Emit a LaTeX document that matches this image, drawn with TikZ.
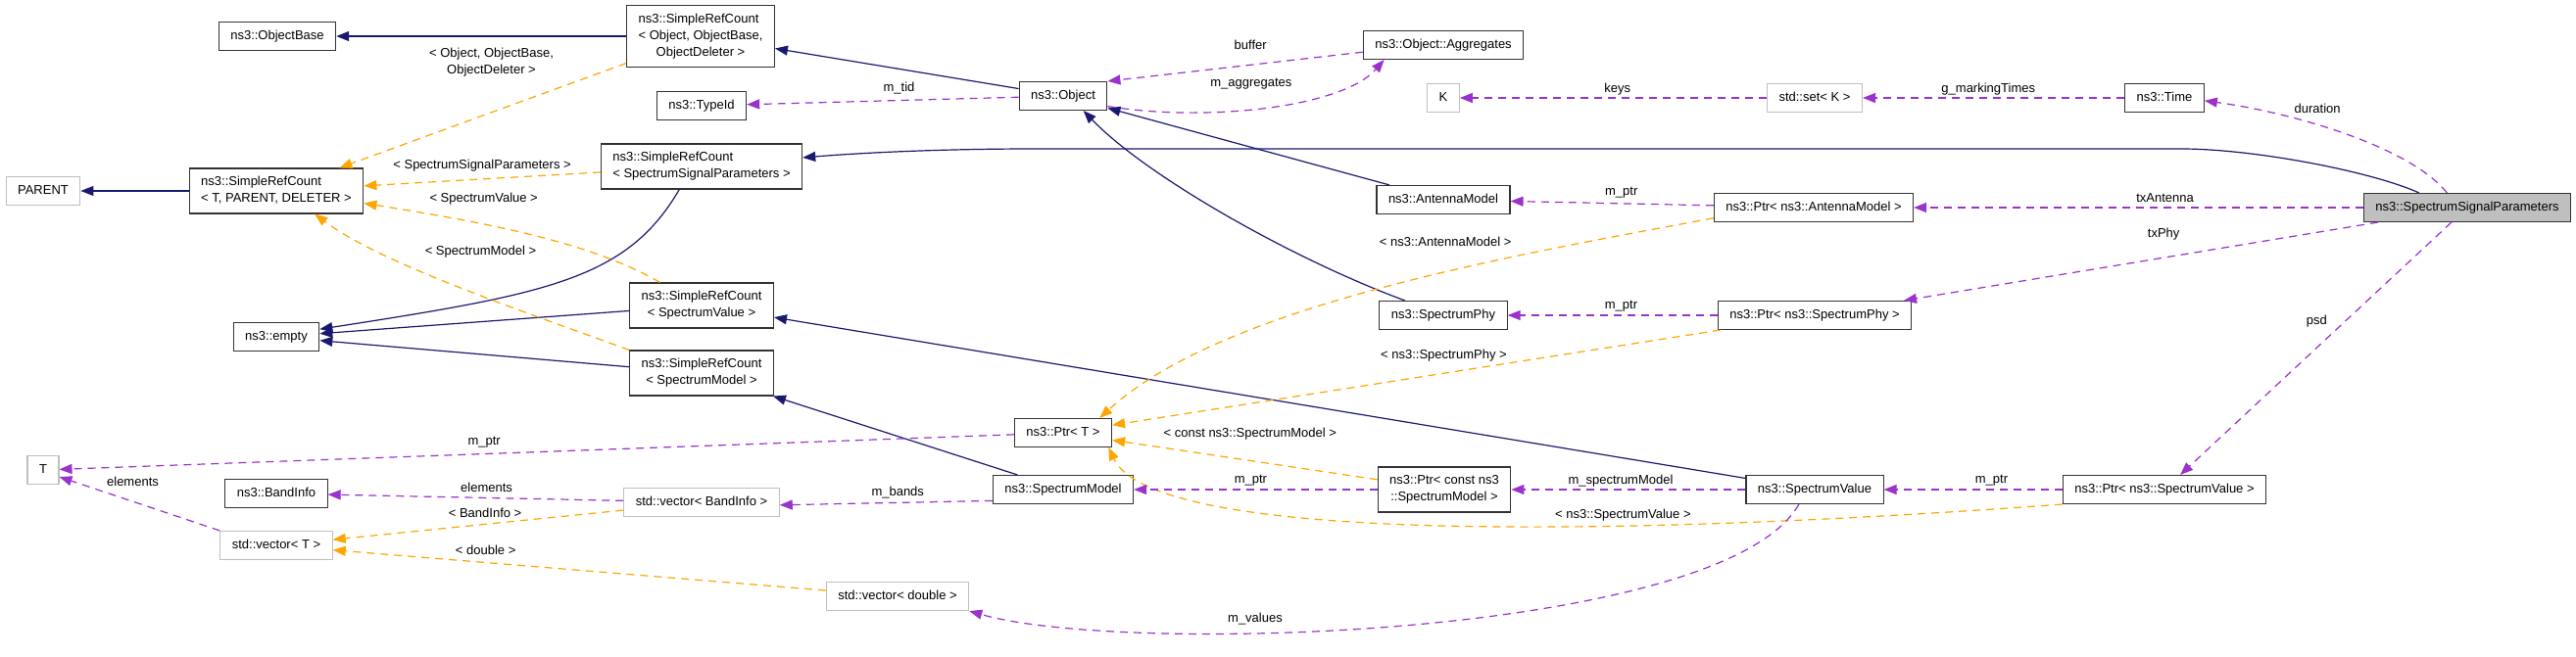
\documentclass[tikz,border=0pt]{standalone}
\usepackage{fontspec}
\setmainfont{Liberation Sans}
\usetikzlibrary{arrows.meta}
\definecolor{inherit}{RGB}{25,25,112}
\definecolor{templ}{RGB}{255,165,0}
\definecolor{usage}{RGB}{154,50,205}
\definecolor{undoc}{RGB}{191,191,191}
\newcommand{\clsname}[1]{\begin{tabular}{@{}l@{}}#1\end{tabular}}
\newcommand{\lastln}[1]{\multicolumn{1}{@{}c@{}}{#1}}

\begin{document}
\begin{tikzpicture}[x=1pt,y=-1pt,
  font=\fontsize{13}{17}\selectfont,
  >={Stealth[length=13pt,width=10pt,inset=0pt]},
  cls/.style={draw=black!80,line width=1.1pt,fill=white,inner xsep=12pt,inner ysep=6pt},
  nodoc/.style={cls,draw=undoc},
  base/.style={->,line width=1.2pt,color=inherit},
  inst/.style={->,line width=1.2pt,color=templ,dash pattern=on 8pt off 6pt},
  uses/.style={->,line width=1.2pt,color=usage,dash pattern=on 8pt off 6pt},
  lbl/.style={inner sep=1pt,text=black}]

\path[fill=white] (0,0) rectangle (2629,651);

% classes
\node[nodoc] (parent) at (44,195) {\clsname{PARENT}};
\node[cls] (objbase) at (283,37) {\clsname{ns3::ObjectBase}};
\node[cls] (srcT) at (282,195) {\clsname{ns3::SimpleRefCount\\\lastln{< T, PARENT, DELETER >}}};
\node[cls] (empty) at (282,344) {\clsname{ns3::empty}};
\node[nodoc] (T) at (44,480) {\clsname{T}};
\node[cls] (bandinfo) at (282,504) {\clsname{ns3::BandInfo}};
\node[nodoc] (vecT) at (282,557) {\clsname{std::vector< T >}};
\node[cls] (srcObj) at (715,37) {\clsname{ns3::SimpleRefCount\\< Object, ObjectBase,\\\lastln{ObjectDeleter >}}};
\node[cls] (typeid) at (716,108) {\clsname{ns3::TypeId}};
\node[cls] (srcSSP) at (716,170) {\clsname{ns3::SimpleRefCount\\\lastln{< SpectrumSignalParameters >}}};
\node[cls] (srcSV) at (716,312) {\clsname{ns3::SimpleRefCount\\\lastln{< SpectrumValue >}}};
\node[cls] (srcSM) at (716,381) {\clsname{ns3::SimpleRefCount\\\lastln{< SpectrumModel >}}};
\node[nodoc] (vecBand) at (716,513) {\clsname{std::vector< BandInfo >}};
\node[nodoc] (vecDbl) at (916,609) {\clsname{std::vector< double >}};
\node[cls] (object) at (1085,98) {\clsname{ns3::Object}};
\node[cls] (ptrT) at (1085,442) {\clsname{ns3::Ptr< T >}};
\node[cls] (specModel) at (1085,500) {\clsname{ns3::SpectrumModel}};
\node[cls] (aggr) at (1473,46) {\clsname{ns3::Object::Aggregates}};
\node[nodoc] (K) at (1473,100) {\clsname{K}};
\node[cls] (antenna) at (1473,204) {\clsname{ns3::AntennaModel}};
\node[cls] (specPhy) at (1473,322) {\clsname{ns3::SpectrumPhy}};
\node[cls] (ptrSM) at (1474,500) {\clsname{ns3::Ptr< const ns3\\\lastln{::SpectrumModel >}}};
\node[nodoc] (setK) at (1852,100) {\clsname{std::set< K >}};
\node[cls] (ptrAnt) at (1851,212) {\clsname{ns3::Ptr< ns3::AntennaModel >}};
\node[cls] (ptrPhy) at (1852,322) {\clsname{ns3::Ptr< ns3::SpectrumPhy >}};
\node[cls] (specValue) at (1852,500) {\clsname{ns3::SpectrumValue}};
\node[cls] (time) at (2209,100) {\clsname{ns3::Time}};
\node[cls] (ptrSV) at (2209,500) {\clsname{ns3::Ptr< ns3::SpectrumValue >}};
\node[cls,fill=undoc] (sspar) at (2518,212) {\clsname{ns3::SpectrumSignalParameters}};

% inheritance
\path[base] (srcObj) edge (objbase)
  (srcT) edge (parent)
  (object) edge (srcObj)
  (srcSV) edge (empty)
  (srcSM) edge (empty)
  (antenna) edge (object)
  (specValue) edge (srcSV)
  (specModel) edge (srcSM);
\draw[base] (sspar.163) .. controls (2420,175) and (2300,152) .. (2226,152) -- (1057,152)
  .. controls (960,152) and (880,156) .. (srcSSP.5);
\draw[base] (srcSSP.226) .. controls (640,285) and (560,300) .. (empty.10);
\draw[base] (specPhy.159) .. controls (1320,265) and (1170,180) .. (object.-36);

% template arguments
\path[inst] (srcObj) edge node[lbl,align=center,pos=.47,yshift=51pt] {< Object, ObjectBase,\\ObjectDeleter >} (srcT)
  (srcSSP) edge node[lbl,pos=.5,yshift=14pt] {< SpectrumSignalParameters >} (srcT)
  (ptrPhy) edge node[lbl,pos=.455,yshift=18pt] {< ns3::SpectrumPhy >} (ptrT)
  (ptrSM) edge node[lbl,pos=.48,yshift=27pt] {< const ns3::SpectrumModel >} (ptrT)
  (vecBand) edge node[lbl,pos=.476,yshift=12pt] {< BandInfo >} (vecT)
  (vecDbl) edge node[lbl,pos=.69,yshift=13pt] {< double >} (vecT);
\draw[inst] (srcSV.151) .. controls (600,245) and (480,225) .. (srcT.-8)
  node[lbl,pos=.63,yshift=26pt] {< SpectrumValue >};
\draw[inst] (srcSM.north west) .. controls (540,320) and (390,270) .. (srcT.-31)
  node[lbl,pos=.44,yshift=45pt] {< SpectrumModel >};
\draw[inst] (ptrAnt.186) .. controls (1550,260) and (1250,310) .. (ptrT.22)
  node[lbl,pos=.4,xshift=-4pt,yshift=30pt] {< ns3::AntennaModel >};
\draw[inst] (ptrSV.south west) .. controls (1700,545) and (1180,560) .. (ptrT.-18)
  node[lbl,pos=.355,yshift=11pt] {< ns3::SpectrumValue >};

% members
\path[uses] (object) edge node[lbl,pos=.44,yshift=12pt] {m\_tid} (typeid)
  (aggr.185) edge node[lbl,pos=.44,yshift=20pt] {buffer} (object.north east)
  (setK) edge node[lbl,pos=.486,yshift=9pt] {keys} (K)
  (time) edge node[lbl,pos=.52,yshift=9pt] {g\_markingTimes} (setK)
  (ptrAnt) edge node[lbl,pos=.454,yshift=11pt] {m\_ptr} (antenna)
  (sspar) edge node[lbl,pos=.441,yshift=10pt] {txAntenna} (ptrAnt)
  (sspar) edge node[lbl,pos=.452,yshift=24pt] {txPhy} (ptrPhy)
  (ptrPhy) edge node[lbl,pos=.459,yshift=9pt] {m\_ptr} (specPhy)
  (sspar) edge node[lbl,pos=.392,xshift=-29pt] {psd} (ptrSV)
  (ptrSV) edge node[lbl,pos=.397,yshift=9pt] {m\_ptr} (specValue)
  (specValue) edge node[lbl,pos=.533,yshift=9pt] {m\_spectrumModel} (ptrSM)
  (ptrSM) edge node[lbl,pos=.52,yshift=9pt] {m\_ptr} (specModel)
  (specModel.189) edge node[lbl,pos=.445,yshift=10pt] {m\_bands} (vecBand.-2)
  (vecBand) edge node[lbl,pos=.463,yshift=11pt] {elements} (bandinfo)
  (vecT.north west) edge node[lbl,pos=.542,yshift=20pt] {elements} (T.-23)
  (ptrT) edge node[lbl,pos=.555,yshift=12pt] {m\_ptr} (T);
\draw[uses] (object.-13) .. controls (1230,125) and (1370,110) .. (aggr.194)
  node[lbl,pos=.45,yshift=26pt] {m\_aggregates};
\draw[uses] (sspar.144) .. controls (2460,150) and (2340,115) .. (time.-4)
  node[lbl,pos=.6,yshift=17pt] {duration};
\draw[uses] (specValue.223) .. controls (1760,650) and (1150,670) .. (vecDbl.south east)
  node[lbl,pos=.65,yshift=14pt] {m\_values};
\end{tikzpicture}
\end{document}
